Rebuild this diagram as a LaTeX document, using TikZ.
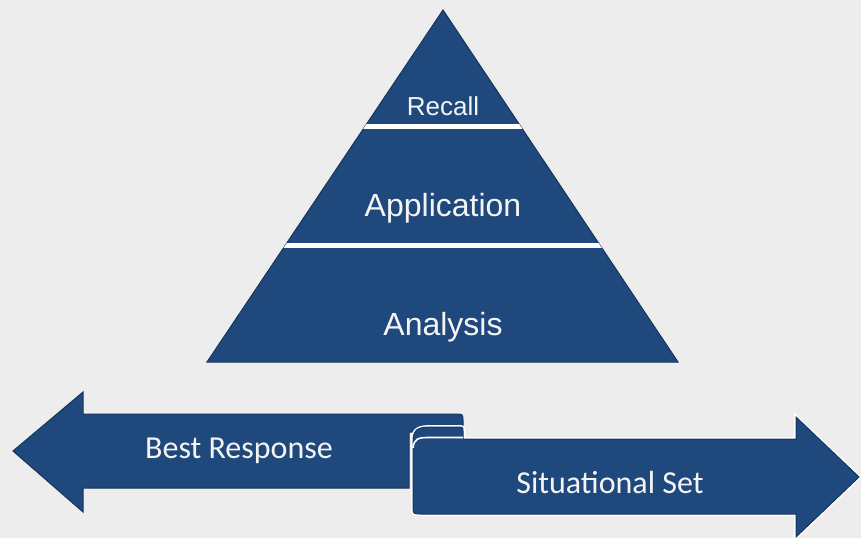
\documentclass[tikz,border=0pt]{standalone}
\usepackage{fontspec}
\setmainfont{Liberation Sans}
\newfontfamily\carlito{Carlito}
\definecolor{navy}{HTML}{1F497D}
\definecolor{navyedge}{HTML}{16355C}
\definecolor{bg}{HTML}{EDEDED}
\definecolor{txt}{HTML}{F4F4F4}
\tikzset{
  bluefill/.style={fill=navy, draw=navyedge, line width=1pt, line join=miter},
  ptext/.style={text=txt, inner sep=0pt, font=\fontsize{32}{38}\selectfont},
  ltext/.style={text=txt, inner sep=0pt, font=\carlito\fontsize{32}{38}\selectfont},
  sepband/.style={fill=white}
}
\begin{document}
\begin{tikzpicture}[x=1pt,y=-1pt]
\fill[bg] (0,0) rectangle (861,538);
\useasboundingbox (0,0) rectangle (861,538);
% pyramid
\coordinate (apex) at (443,10);
\coordinate (bl) at (207,362);
\coordinate (br) at (678,362);
\path[bluefill] (apex) -- (br) -- (bl) -- cycle;
\begin{scope}
  \clip (apex) -- (br) -- (bl) -- cycle;
  \fill[sepband] (300,123.5) rectangle (600,128.5);
  \fill[sepband] (250,243) rectangle (650,248);
\end{scope}
\node[ptext, font=\fontsize{26}{30}\selectfont] (recall) at (443,106) {Recall};
\node[ptext] (application) at (443,208) {Application};
\node[ptext] (analysis) at (443,327) {Analysis};
% left arrow
\path[bluefill] (13,451) -- (83,392) -- (83,414) -- (455,414)
   .. controls (463,414) .. (463,421) -- (463,432) -- (409,432)
   -- (409,488) -- (83,488) -- (83,512) -- cycle;
% right arrow with rolled end
\path[bluefill, preaction={draw=white, line width=4pt}]
   (413,442) .. controls (413,429) and (418,427) .. (432,427) -- (456,427)
   .. controls (463,427) .. (463,431) -- (463,439)
   -- (796,439) -- (796,417) -- (859,477) -- (796,537) -- (796,514)
   -- (421,514) .. controls (413,514) .. (413,506) -- cycle;
\draw[white, line width=1.6pt] (413,448) .. controls (414,439) and (418,437.5) .. (428,437.5) -- (463,437.5);
\node[ltext] (best) at (239,451) {Best Response};
\node[ltext] (situational) at (610,482) {Situational Set};
\end{tikzpicture}
\end{document}
